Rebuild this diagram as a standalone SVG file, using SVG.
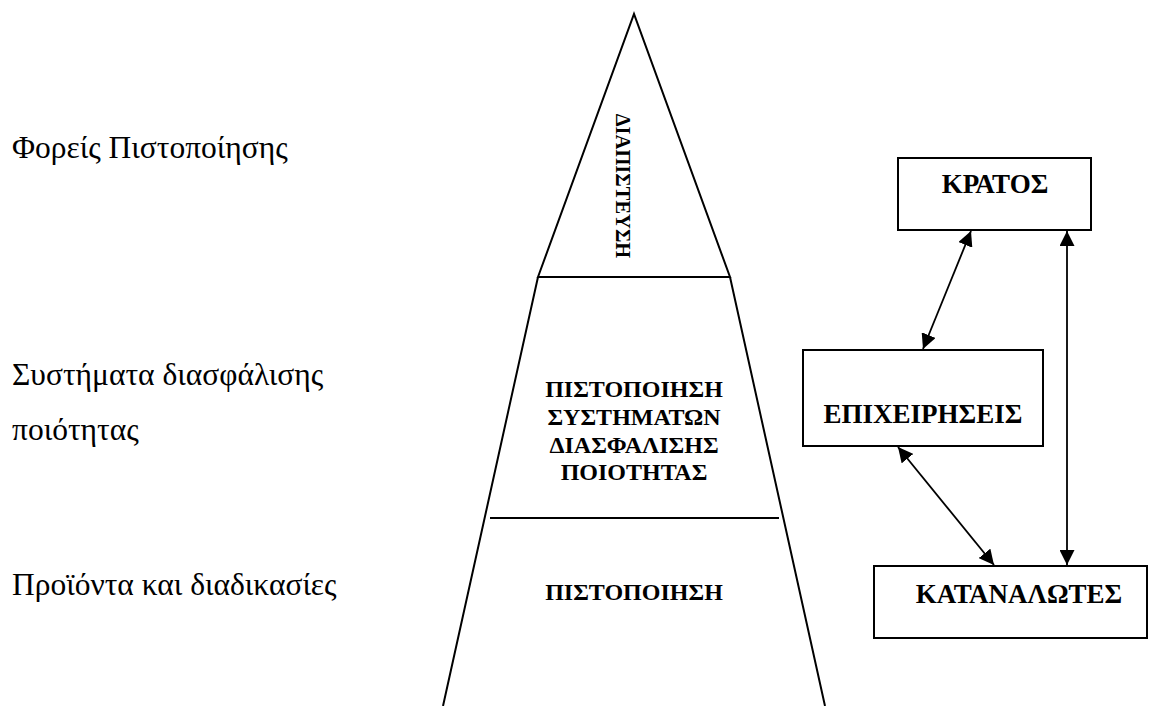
<svg xmlns="http://www.w3.org/2000/svg" width="1152" height="706" viewBox="0 0 1152 706">
  <defs>
    <style>
      .edge { fill: none; stroke: #000; stroke-width: 2; }
      .box { fill: #fff; stroke: #000; stroke-width: 2; }
      .conn { stroke: #000; stroke-width: 1.8; fill: none; marker-start: url(#head); marker-end: url(#head); }
      .label { font-family: "Liberation Serif", "DejaVu Serif", serif; font-size: 31.5px; fill: #000; }
      .bold { font-family: "Liberation Serif", "DejaVu Serif", serif; font-size: 24px; font-weight: bold; fill: #000; text-anchor: middle; }
      .actor { font-size: 27px; }
      .vertical { font-size: 20.5px; }
    </style>
    <marker id="head" viewBox="0 0 10 10" refX="10" refY="5" markerWidth="15" markerHeight="15" markerUnits="userSpaceOnUse" orient="auto-start-reverse">
      <path d="M0,0 L10,5 L0,10 z" fill="#000"/>
    </marker>
  </defs>

  <rect width="1152" height="706" fill="#fff"/>

  <!-- level captions on the left -->
  <g id="captions">
    <text class="label" x="12" y="158">Φορείς Πιστοποίησης</text>
    <text class="label" x="12" y="385">Συστήματα διασφάλισης</text>
    <text class="label" x="12" y="440">ποιότητας</text>
    <text class="label" x="12" y="595">Προϊόντα και διαδικασίες</text>
  </g>

  <!-- pyramid: apex triangle and lower trapezoid -->
  <g id="pyramid-top">
    <path class="edge" d="M538,277 L634,14 L730,277 Z"/>
    <text class="bold vertical" transform="translate(616,186) rotate(90)" x="0" y="0">ΔΙΑΠΙΣΤΕΥΣΗ</text>
  </g>
  <g id="pyramid-base">
    <path class="edge" d="M538,277 L443,706 M730,277 L825,706"/>
    <line class="edge" x1="490" y1="518" x2="779" y2="518"/>
  </g>
  <g id="pyramid-middle">
    <text class="bold" x="634" y="397">ΠΙΣΤΟΠΟΙΗΣΗ</text>
    <text class="bold" x="634" y="425">ΣΥΣΤΗΜΑΤΩΝ</text>
    <text class="bold" x="634" y="453">ΔΙΑΣΦΑΛΙΣΗΣ</text>
    <text class="bold" x="634" y="480">ΠΟΙΟΤΗΤΑΣ</text>
  </g>
  <g id="pyramid-bottom">
    <text class="bold" x="634" y="600">ΠΙΣΤΟΠΟΙΗΣΗ</text>
  </g>

  <!-- actors -->
  <g id="kratos">
    <rect class="box" x="898" y="158" width="193" height="72"/>
    <text class="bold actor" x="995" y="193">ΚΡΑΤΟΣ</text>
  </g>
  <g id="epixeiriseis">
    <rect class="box" x="803" y="350" width="240" height="96"/>
    <text class="bold actor" x="923" y="423">ΕΠΙΧΕΙΡΗΣΕΙΣ</text>
  </g>
  <g id="katanalotes">
    <rect class="box" x="874" y="566" width="273" height="72"/>
    <text class="bold actor" x="1019" y="603">ΚΑΤΑΝΑΛΩΤΕΣ</text>
  </g>

  <!-- two-way relations between actors -->
  <g id="connectors">
    <line class="conn" x1="971" y1="231" x2="923" y2="349"/>
    <line class="conn" x1="1067" y1="231" x2="1067" y2="565"/>
    <line class="conn" x1="898" y1="447" x2="994" y2="565"/>
  </g>
</svg>
